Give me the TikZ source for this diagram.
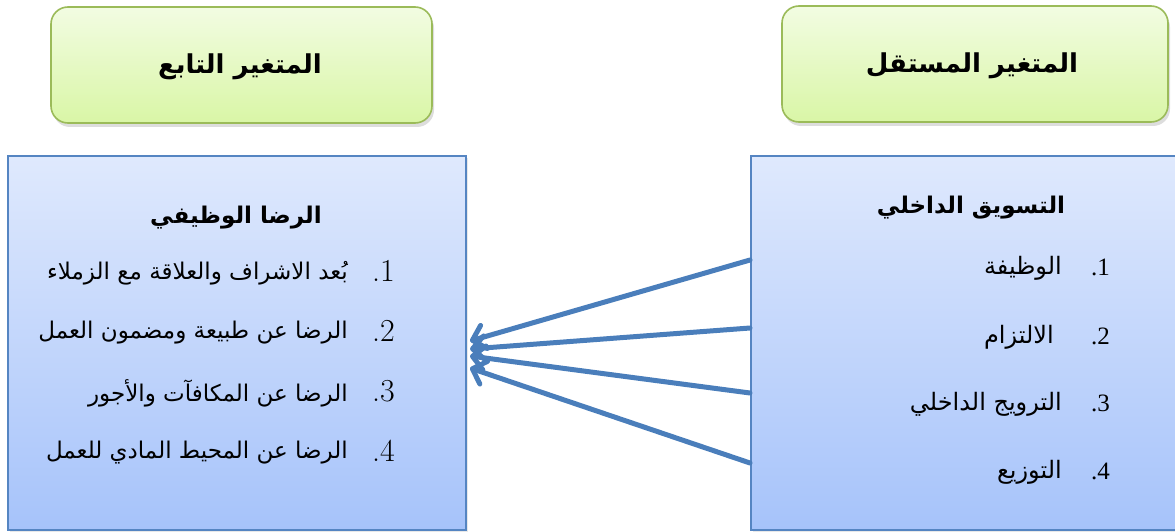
\documentclass[tikz,border=0pt]{standalone}
\usepackage{fontspec}
\TeXXeTstate=1
\newfontfamily\arabicfont[Script=Arabic]{DejaVu Sans}
\newfontfamily\numfont{Liberation Serif}
\usetikzlibrary{arrows.meta,shadows}

\definecolor{greenborder}{HTML}{9BBB59}
\definecolor{greentop}{HTML}{F2FCE2}
\definecolor{greenbottom}{HTML}{D9F6A6}
\definecolor{blueborder}{HTML}{5585C2}
\definecolor{bluetop}{HTML}{DFE9FD}
\definecolor{bluebottom}{HTML}{A6C3FA}
\definecolor{arrowblue}{HTML}{4A7EBB}

\tikzset{
  headbox/.style={draw=greenborder, line width=1.6pt, rounded corners=17pt,
    top color=greentop, bottom color=greenbottom,
    drop shadow={shadow xshift=2pt, shadow yshift=-4pt, opacity=0.22, fill=black!60},
    inner sep=0pt},
  listbox/.style={draw=blueborder, line width=1.6pt,
    top color=bluetop, bottom color=bluebottom,
    drop shadow={shadow xshift=2pt, shadow yshift=-2pt, opacity=0.15, fill=black!60},
    inner sep=0pt},
  headtext/.style={font=\arabicfont\bfseries\fontsize{26}{31}\selectfont, inner sep=0pt},
  titletext/.style={font=\arabicfont\bfseries\fontsize{23}{28}\selectfont, inner sep=0pt},
  lefttext/.style={font=\arabicfont\fontsize{23}{28}\selectfont, inner sep=0pt, anchor=east},
  righttext/.style={font=\arabicfont\fontsize{24}{29}\selectfont, inner sep=0pt, anchor=east},
  bignum/.style={font=\fontsize{32}{36}\selectfont, inner sep=0pt, anchor=east},
  smallnum/.style={font=\numfont\fontsize{25}{29}\selectfont, inner sep=0pt, anchor=east},
  link/.style={draw=arrowblue, line width=5pt, line cap=round,
    -{Straight Barb[length=12pt, width=24pt, line cap=round, line join=round]}}
}

\begin{document}
\begin{tikzpicture}[x=1pt, y=-1pt]
\useasboundingbox (0,0) rectangle (1175,532);

% heading boxes
\node[headbox, minimum width=381pt, minimum height=116pt] (hdep) at (241.5,65) {};
\node[headtext] (hdeptxt) at (240,67) {\beginR المتغير التابع\endR};
\node[headbox, minimum width=386pt, minimum height=116pt] (hind) at (975,64) {};
\node[headtext] (hindtxt) at (972,66) {\beginR المتغير المستقل\endR};

% dependent variable box
\node[listbox, minimum width=458pt, minimum height=374pt] (dep) at (237,343) {};
\node[titletext] (deptitle) at (236,218) {\beginR الرضا الوظيفي\endR};
\node[bignum] (dn1) at (395,271) {.1};
\node[lefttext] (dt1) at (348,273) {\beginR بُعد الاشراف والعلاقة مع الزملاء\endR};
\node[bignum] (dn2) at (395,331) {.2};
\node[lefttext] (dt2) at (348,333) {\beginR الرضا عن طبيعة ومضمون العمل\endR};
\node[bignum] (dn3) at (395,391) {.3};
\node[lefttext] (dt3) at (348,393) {\beginR الرضا عن المكافآت والأجور\endR};
\node[bignum] (dn4) at (395,451) {.4};
\node[lefttext] (dt4) at (348,453) {\beginR الرضا عن المحيط المادي للعمل\endR};

% independent variable box
\node[listbox, minimum width=436pt, minimum height=374pt] (ind) at (969,343) {};
\node[titletext] (indtitle) at (971,208) {\beginR التسويق الداخلي\endR};
\node[smallnum] (in1) at (1110,267) {.1};
\node[righttext] (it1) at (1062,268) {\beginR الوظيفة\endR};
\node[smallnum] (in2) at (1110,336) {.2};
\node[righttext] (it2) at (1054,337) {\beginR الالتزام\endR};
\node[smallnum] (in3) at (1110,403) {.3};
\node[righttext] (it3) at (1062,404) {\beginR الترويج الداخلي\endR};
\node[smallnum] (in4) at (1110,471) {.4};
\node[righttext] (it4) at (1062,472) {\beginR التوزيع\endR};

% connector ends on the two box borders
\coordinate (s1) at (750,260);
\coordinate (s2) at (750,328);
\coordinate (s3) at (750,393);
\coordinate (s4) at (750,463);
\coordinate (t1) at (470,341);
\coordinate (t2) at (470,349);
\coordinate (t3) at (470,356);
\coordinate (t4) at (470,368);

\draw[link] (s1) -- (t1);
\draw[link] (s2) -- (t2);
\draw[link] (s3) -- (t3);
\draw[link] (s4) -- (t4);
\end{tikzpicture}
\end{document}
